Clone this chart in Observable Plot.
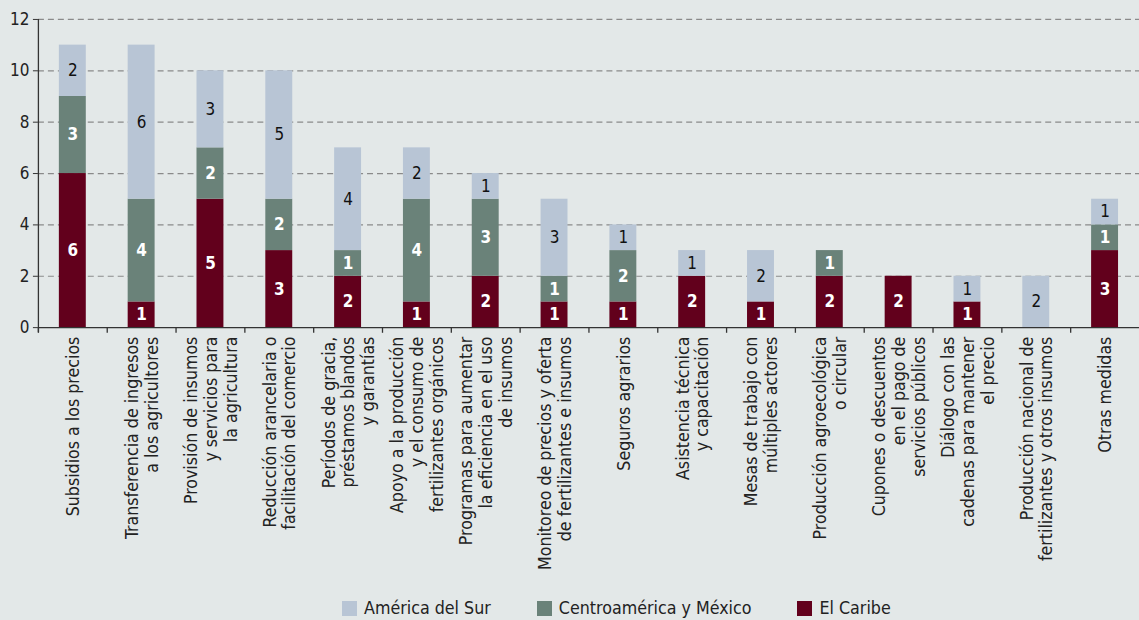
<!DOCTYPE html>
<html><head><meta charset="utf-8">
<script src="https://cdn.jsdelivr.net/npm/d3@7"></script>
<script src="https://cdn.jsdelivr.net/npm/@observablehq/plot@0.6"></script>
<style>
html,body{margin:0;padding:0;background:#e3e8e8;overflow:hidden;width:1139px;height:620px;}
body{position:relative;font-family:"DejaVu Sans Condensed","Liberation Sans Narrow",sans-serif;}
#chart{position:absolute;left:0;top:0;}
#legend{position:absolute;left:342px;top:598px;display:flex;align-items:center;font-size:17.7px;color:#222;white-space:nowrap;}
.item{display:flex;align-items:center;margin-right:46px}
.sw{width:15px;height:15px;margin-right:7px}
</style></head><body>
<div id="chart"></div>
<div id="legend"></div>
<script>
const categories = [
  "Subsidios a los precios",
  "Transferencia de ingresos\na los agricultores",
  "Provisión de insumos\ny servicios para\nla agricultura",
  "Reducción arancelaria o\nfacilitación del comercio",
  "Períodos de gracia,\npréstamos blandos\ny garantías",
  "Apoyo a la producción\ny el consumo de\nfertilizantes orgánicos",
  "Programas para aumentar\nla eficiencia en el uso\nde insumos",
  "Monitoreo de precios y oferta\nde fertilizantes e insumos",
  "Seguros agrarios",
  "Asistencia técnica\ny capacitación",
  "Mesas de trabajo con\nmúltiples actores",
  "Producción agroecológica\no circular",
  "Cupones o descuentos\nen el pago de\nservicios públicos",
  "Diálogo con las\ncadenas para mantener\nel precio",
  "Producción nacional de\nfertilizantes y otros insumos",
  "Otras medidas"
];
const caribe = [6,1,5,3,2,1,2,1,1,2,1,2,2,1,0,3];
const centro = [3,4,2,2,1,4,3,1,2,0,0,1,0,0,0,1];
const sur    = [2,6,3,5,4,2,1,3,1,1,2,0,0,1,2,1];
const seriesNames = ["América del Sur","Centroamérica y México","El Caribe"];
const seriesColors = ["#b8c5d5","#6a8279","#62001c"];
const yTicks = [0,2,4,6,8,10,12];

const W = 1142, ML = 38, MR = 0, MT = 19, H = 590, MB = 262;
const step = (W - ML - MR) / categories.length;

const rows = [];
categories.forEach((c, i) => {
  rows.push({cat: c, serie: "El Caribe", v: caribe[i]});
  rows.push({cat: c, serie: "Centroamérica y México", v: centro[i]});
  rows.push({cat: c, serie: "América del Sur", v: sur[i]});
});
const data = rows.filter(d => d.v > 0);
const stackOpts = {x: "cat", y: "v", z: "serie", order: ["El Caribe","Centroamérica y México","América del Sur"]};
const FONT = '"DejaVu Sans Condensed","Liberation Sans Narrow",sans-serif';

const chart = Plot.plot({
  width: W, height: H,
  marginLeft: ML, marginRight: MR, marginTop: MT, marginBottom: MB,
  style: {background: "transparent", fontFamily: FONT, fontSize: "17px", color: "#222"},
  x: {domain: categories, paddingInner: 0.61, paddingOuter: 0.305, axis: null},
  y: {domain: [0, 12], axis: null},
  color: {domain: seriesNames, range: seriesColors},
  marks: [
    Plot.gridY(yTicks.filter(t => t > 0), {stroke: "#8a8a8a", strokeOpacity: 1, strokeDasharray: "6,4", strokeWidth: 1.2}),
    Plot.barY(data, Plot.stackY({...stackOpts, fill: "serie"})),
    Plot.text(data, Plot.stackY({...stackOpts, text: d => d.serie === "América del Sur" ? "" : String(d.v), fill: "white", fontWeight: "bold", fontSize: 17})),
    Plot.text(data, Plot.stackY({...stackOpts, text: d => d.serie === "América del Sur" ? String(d.v) : "", fill: "#111", fontSize: 17})),
    Plot.ruleY([0], {stroke: "#333", strokeWidth: 1.3}),
    Plot.ruleX([categories[0]], {x: d => d, dx: -step / 2, y1: -0.2, y2: 12, stroke: "#333", strokeWidth: 1.3}),
    Plot.ruleX(categories, {x: d => d, dx: -step / 2, y1: 0, y2: -0.22, stroke: "#333", strokeWidth: 1.3}),
    Plot.axisY(yTicks, {tickSize: 5, tickPadding: 4, fontSize: 17, label: null, stroke: "#333", fill: "#222"}),
    Plot.text(categories, {x: d => d, text: d => d, frameAnchor: "bottom", dy: 9, rotate: -90, textAnchor: "end", lineAnchor: "middle", lineHeight: 1.12, fontSize: 17.7, fill: "#222"})
  ]
});
document.getElementById("chart").appendChild(chart);

const legend = document.getElementById("legend");
seriesNames.forEach((s, i) => {
  const it = document.createElement("div");
  it.className = "item";
  const sw = document.createElement("div");
  sw.className = "sw";
  sw.style.background = seriesColors[i];
  const t = document.createElement("span");
  t.textContent = s;
  it.appendChild(sw); it.appendChild(t);
  legend.appendChild(it);
});
</script>
</body></html>
